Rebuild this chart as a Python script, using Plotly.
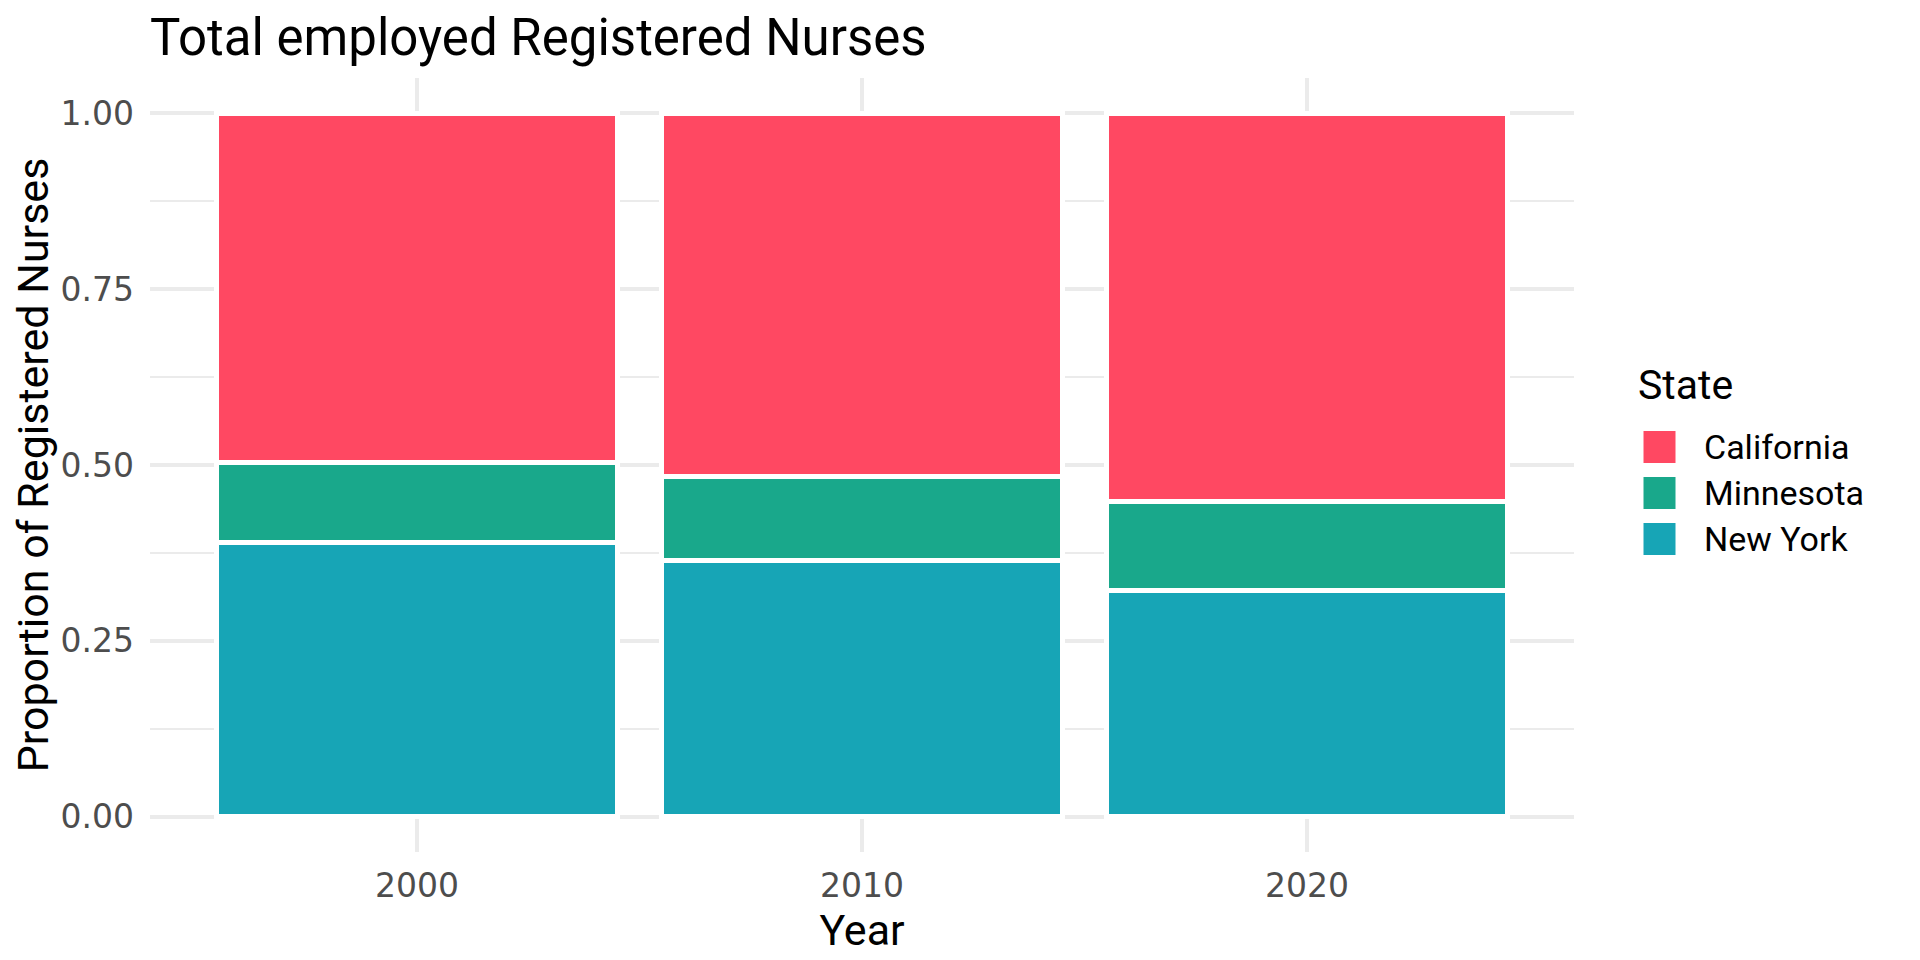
import plotly.graph_objects as go

# Share of employed Registered Nurses by state (stacked to 1.0)
years = ["2000", "2010", "2020"]
states = ["California", "Minnesota", "New York"]
california = [0.496, 0.516, 0.552]
minnesota = [0.114, 0.120, 0.127]
new_york = [0.390, 0.364, 0.321]
colors = ["#FF4862", "#19A88B", "#17A5B6"]
y_ticks = [0, 0.25, 0.5, 0.75, 1.0]

W, H = 1920, 960
L, R, T, B = 142, 354, 70, 116
TEXT_FONT = "Roboto"
TICK_FONT = "DejaVu Sans"

fig = go.Figure()
# stacking order: New York at bottom, then Minnesota, California on top
for name, vals, col in [("New York", new_york, colors[2]),
                        ("Minnesota", minnesota, colors[1]),
                        ("California", california, colors[0])]:
    fig.add_trace(go.Bar(
        x=years, y=vals, name=name,
        marker=dict(color=col, line=dict(color="white", width=5)),
        showlegend=False,
    ))

fig.update_layout(
    width=W, height=H,
    barmode="stack", bargap=0.1,
    plot_bgcolor="white", paper_bgcolor="white",
    margin=dict(l=L, r=R, t=T, b=B),
    title=dict(text="Total employed Registered Nurses",
               font=dict(family=TEXT_FONT, size=51, color="black"),
               xref="container", x=L / W, xanchor="left",
               yref="container", y=1 - 29 / H, yanchor="middle"),
    font=dict(family=TEXT_FONT),
)
fig.update_xaxes(
    type="category", range=[-0.6, 2.6],
    showgrid=True, gridcolor="#EBEBEB", gridwidth=4,
    showline=False, zeroline=False, ticks="",
    tickfont=dict(family=TICK_FONT, size=33, color="#4D4D4D"),
    ticklabelstandoff=11,
    title=dict(text="Year", font=dict(family=TEXT_FONT, size=43, color="black"), standoff=0),
)
fig.update_yaxes(
    range=[-0.05, 1.05],
    tickvals=y_ticks, tickformat=".2f",
    showgrid=True, gridcolor="#EBEBEB", gridwidth=4,
    minor=dict(dtick=0.125, tick0=0, showgrid=True, gridcolor="#EBEBEB", gridwidth=2),
    showline=False, zeroline=False, ticks="",
    tickfont=dict(family=TICK_FONT, size=33, color="#4D4D4D"),
    ticklabelstandoff=15,
    title=dict(text="Proportion of Registered Nurses",
               font=dict(family=TEXT_FONT, size=43, color="black"), standoff=0),
)

# legend drawn by hand so the keys are as large as in the reference
pw, ph = W - L - R, H - T - B
def px(x):
    return (x - L) / pw
def py(y):
    return (H - B - y) / ph

fig.add_annotation(text="State", xref="paper", yref="paper",
                   x=px(1628), y=py(377), xanchor="left", yanchor="middle",
                   showarrow=False, font=dict(family=TEXT_FONT, size=41, color="black"))
for i, (st, col) in enumerate(zip(states, colors)):
    cy = 439 + 46 * i
    fig.add_shape(type="rect", xref="paper", yref="paper",
                  x0=px(1635), x1=px(1668), y0=py(cy + 16.5), y1=py(cy - 16.5),
                  fillcolor=col, line=dict(color="white", width=1))
    fig.add_annotation(text=st, xref="paper", yref="paper",
                       x=px(1694), y=py(cy), xanchor="left", yanchor="middle",
                       showarrow=False, font=dict(family=TEXT_FONT, size=34, color="black"))

fig.write_html("out.html")
